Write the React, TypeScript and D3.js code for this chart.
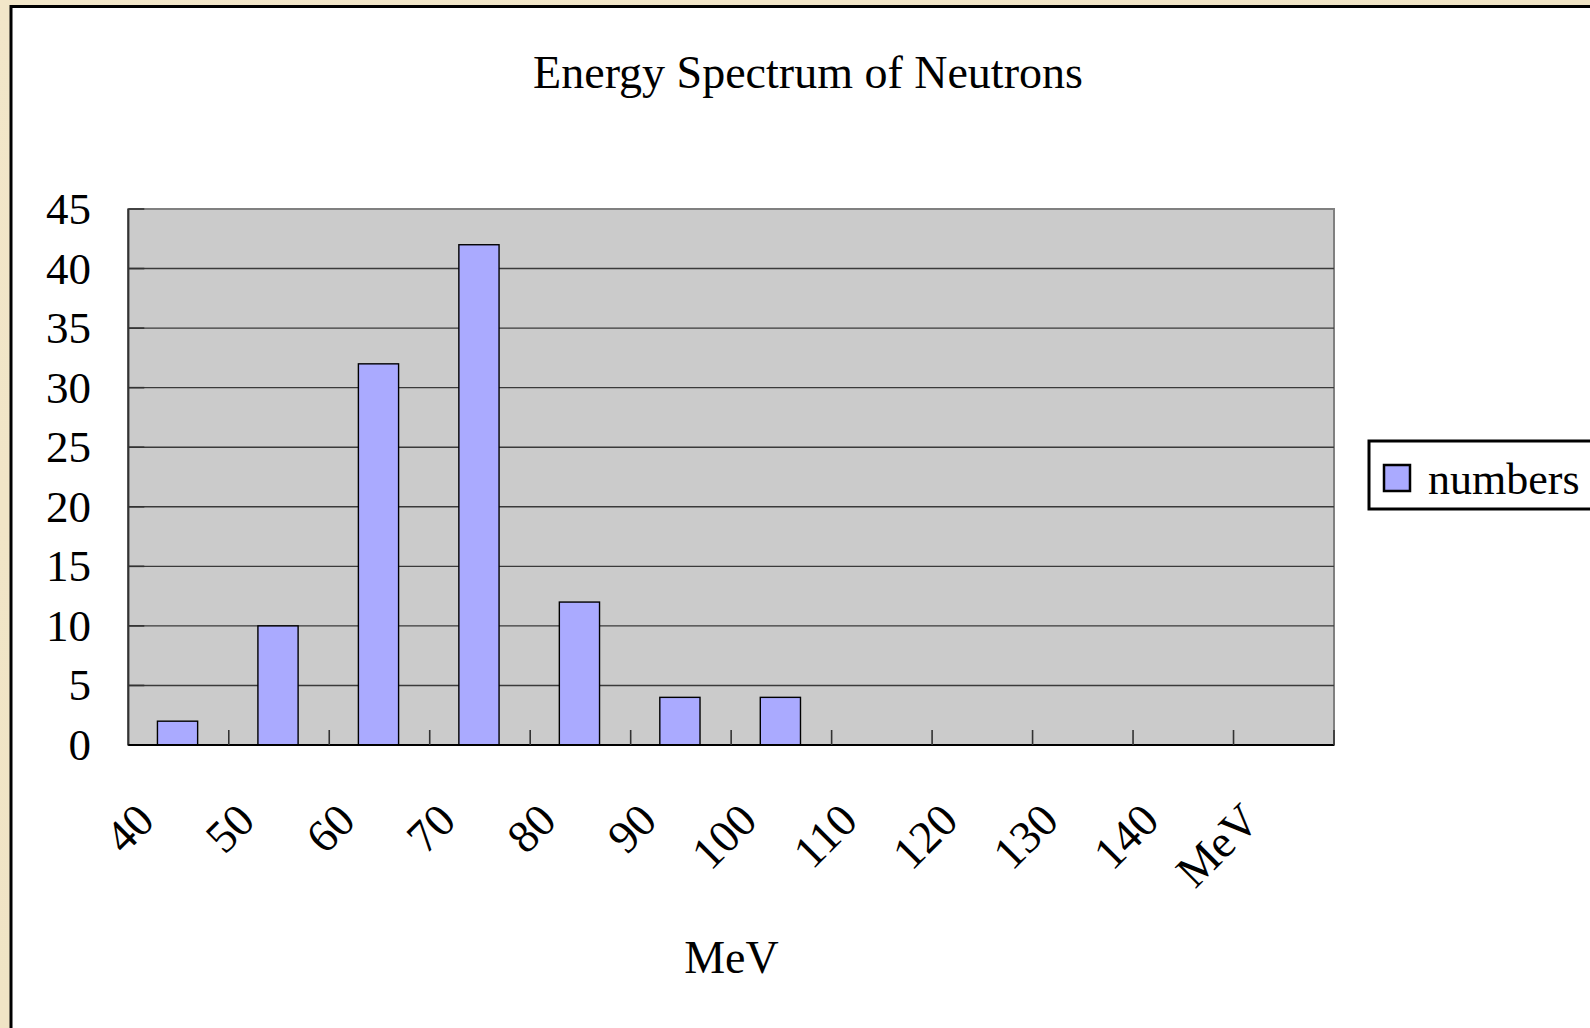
import React from "react";
import * as d3 from "d3";

// Neutron counts per energy bin (MeV)
const categories: string[] = ["40", "50", "60", "70", "80", "90", "100", "110", "120", "130", "140", "MeV"];
const counts: number[] = [2, 10, 32, 42, 12, 4, 4, 0, 0, 0, 0, 0];
const yTicks: number[] = [0, 5, 10, 15, 20, 25, 30, 35, 40, 45];
const seriesName = "numbers";
const chartTitle = "Energy Spectrum of Neutrons";
const xAxisTitle = "MeV";

const W = 1590;
const H = 1028;
const FONT = "'Liberation Serif', 'Times New Roman', serif";

const plot = { left: 128.3, right: 1334, top: 209, bottom: 745 };

export default function App() {
  const x = d3.scaleBand<string>().domain(categories).range([plot.left, plot.right]).padding(0);
  const y = d3.scaleLinear().domain([0, 45]).range([plot.bottom, plot.top]);
  const bw = x.bandwidth();
  const barW = bw / 2.5;

  return (
    <svg
      width={W}
      height={H}
      viewBox={`0 0 ${W} ${H}`}
      style={{ position: "absolute", left: 0, top: 0, display: "block" }}
    >
      <defs>
        <linearGradient id="parchment" x1="0" y1="0" x2="1" y2="1">
          <stop offset="0" stopColor="#f2e6c9" />
          <stop offset="0.5" stopColor="#f0e4c5" />
          <stop offset="1" stopColor="#eee1c1" />
        </linearGradient>
      </defs>
      {/* page background and chart frame */}
      <rect x={0} y={0} width={W} height={H} fill="url(#parchment)" />
      <rect x={11} y={6.5} width={W + 20} height={H + 20} fill="#ffffff" stroke="#000" strokeWidth={3} />

      {/* title */}
      <text x={808} y={88} textAnchor="middle" fontFamily={FONT} fontSize={46} fill="#000">
        {chartTitle}
      </text>

      {/* plot area */}
      <rect
        x={plot.left}
        y={plot.top}
        width={plot.right - plot.left}
        height={plot.bottom - plot.top}
        fill="#cbcbcb"
        stroke="#808080"
        strokeWidth={2}
      />

      {/* horizontal gridlines */}
      {yTicks.filter((t) => t > 0 && t < 45).map((t) => (
        <line key={`g${t}`} x1={plot.left} x2={plot.right} y1={y(t)} y2={y(t)} stroke="#3a3a3a" strokeWidth={1.4} />
      ))}

      {/* bars */}
      {categories.map((c, i) =>
        counts[i] > 0 ? (
          <rect
            key={`b${c}`}
            x={(x(c) as number) + (bw - barW) / 2 - 1}
            y={y(counts[i])}
            width={barW}
            height={y(0) - y(counts[i])}
            fill="#aaaaff"
            stroke="#000"
            strokeWidth={1.4}
          />
        ) : null
      )}

      {/* y axis */}
      <line x1={plot.left} x2={plot.left} y1={plot.top} y2={plot.bottom} stroke="#333" strokeWidth={2} />
      {yTicks.map((t) => (
        <g key={`y${t}`}>
          <line x1={plot.left} x2={plot.left + 16} y1={y(t)} y2={y(t)} stroke="#333" strokeWidth={1.6} />
          <text x={91} y={y(t) + 15} textAnchor="end" fontFamily={FONT} fontSize={45} fill="#000">
            {t}
          </text>
        </g>
      ))}

      {/* x axis */}
      <line x1={plot.left} x2={plot.right} y1={plot.bottom} y2={plot.bottom} stroke="#000" strokeWidth={2} />
      {categories.map((c) => (
        <line
          key={`t${c}`}
          x1={(x(c) as number) + bw}
          x2={(x(c) as number) + bw}
          y1={plot.bottom}
          y2={plot.bottom - 15}
          stroke="#333"
          strokeWidth={1.6}
        />
      ))}
      {categories.map((c) => {
        const ax = (x(c) as number) + bw / 2 - 22;
        const ay = plot.bottom + 78;
        return (
          <text
            key={`l${c}`}
            x={ax}
            y={ay}
            textAnchor="end"
            transform={`rotate(-45 ${ax} ${ay})`}
            fontFamily={FONT}
            fontSize={46}
            fill="#000"
          >
            {c}
          </text>
        );
      })}

      {/* x axis title */}
      <text x={731.5} y={973} textAnchor="middle" fontFamily={FONT} fontSize={46} fill="#000">
        {xAxisTitle}
      </text>

      {/* legend */}
      <rect x={1369} y={441} width={260} height={68} fill="#fff" stroke="#000" strokeWidth={3} />
      <rect x={1384} y={465} width={26} height={26} fill="#aaaaff" stroke="#000" strokeWidth={2.5} />
      <text x={1428} y={494} fontFamily={FONT} fontSize={44} fill="#000">
        {seriesName}
      </text>
    </svg>
  );
}
